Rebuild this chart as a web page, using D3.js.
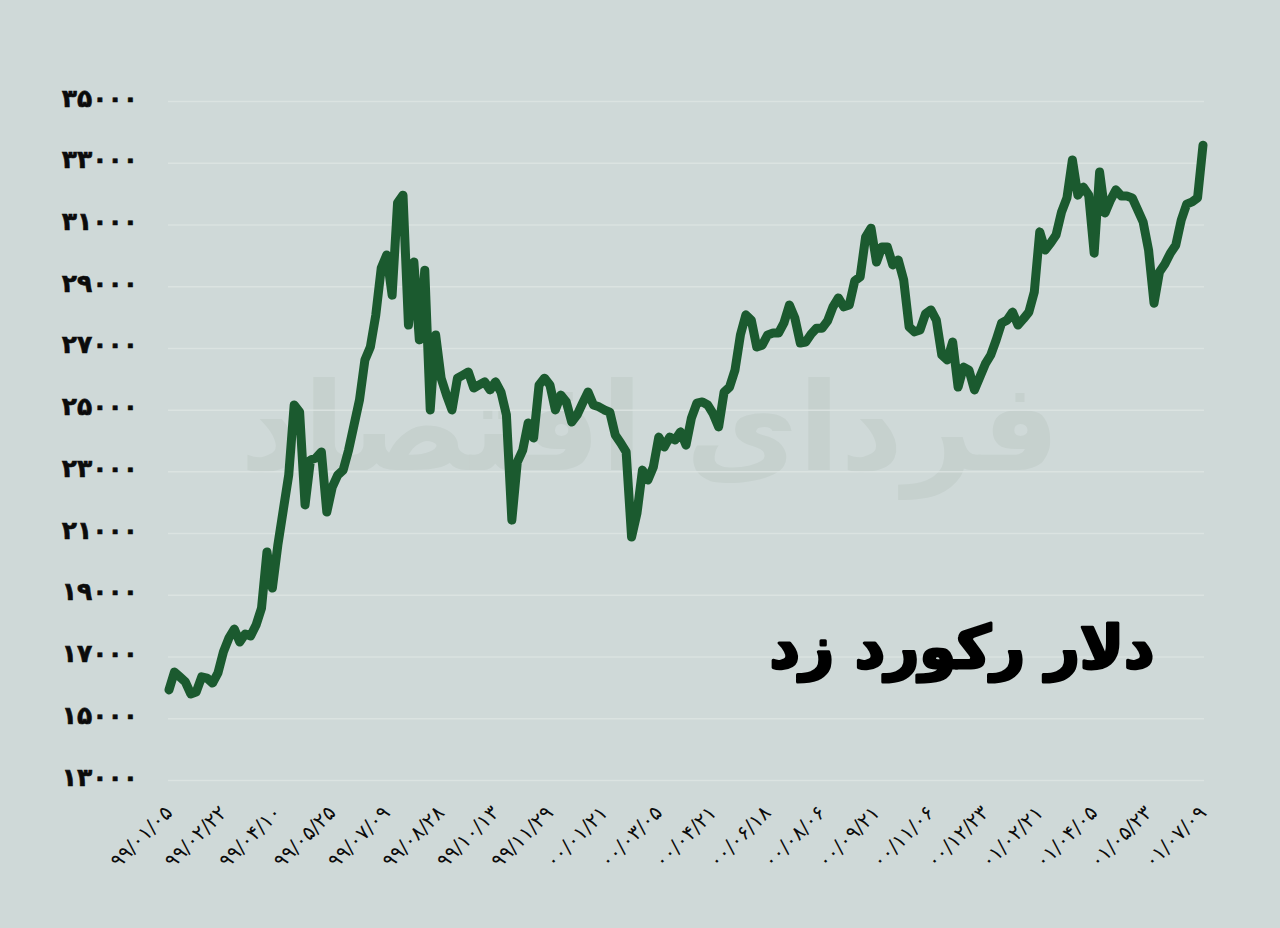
<!DOCTYPE html>
<html>
<head>
<meta charset="utf-8">
<script src="https://cdn.jsdelivr.net/npm/d3@7"></script>
<style>
  html, body { margin: 0; padding: 0; background: #cfd9d8; }
  svg { display: block; }
</style>
</head>
<body>
<svg id="chart" width="1280" height="928"></svg>
<script>
// ---- DATA ----
const title = "دلار رکورد زد";
const watermark = "فردای اقتصاد";

const yTickValues = [13000, 15000, 17000, 19000, 21000, 23000, 25000, 27000, 29000, 31000, 33000, 35000];
const yTickLabels = ["۱۳۰۰۰", "۱۵۰۰۰", "۱۷۰۰۰", "۱۹۰۰۰", "۲۱۰۰۰", "۲۳۰۰۰", "۲۵۰۰۰", "۲۷۰۰۰", "۲۹۰۰۰", "۳۱۰۰۰", "۳۳۰۰۰", "۳۵۰۰۰"];

const xTickLabels = ["۹۹/۰۱/۰۵", "۹۹/۰۲/۲۲", "۹۹/۰۴/۱۰", "۹۹/۰۵/۲۵", "۹۹/۰۷/۰۹", "۹۹/۰۸/۲۸", "۹۹/۱۰/۱۳", "۹۹/۱۱/۲۹", "۰۰/۰۱/۲۱", "۰۰/۰۳/۰۵",
                     "۰۰/۰۴/۲۱", "۰۰/۰۶/۱۸", "۰۰/۰۸/۰۶", "۰۰/۰۹/۲۱", "۰۰/۱۱/۰۶", "۰۰/۱۲/۲۳", "۰۱/۰۲/۲۱", "۰۱/۰۴/۰۵", "۰۱/۰۵/۲۳", "۰۱/۰۷/۰۹"];
const labelEvery = 10; // one date label every 10 observations

// dollar rate (toman), one value per observation
const rate = [
  15920, 16500, 16340, 16180, 15790, 15850, 16340, 16300, 16140, 16470,
  17150, 17600, 17890, 17470, 17730, 17670, 18020, 18570, 20390, 19220,
  20610, 21750, 22880, 25150, 24920, 21910, 23370, 23430, 23630, 21680,
  22490, 22880, 23040, 23690, 24500, 25310, 26610, 27030, 28070, 29590,
  30010, 28710, 31700, 31950, 27740, 29780, 27260, 29520, 24990, 27420,
  26020, 25470, 24990, 26020, 26120, 26220, 25700, 25800, 25900, 25640,
  25900, 25570, 24830, 21420, 23300, 23690, 24570, 24080, 25800, 26020,
  25800, 24990, 25470, 25250, 24600, 24830, 25210, 25570, 25150, 25090,
  24990, 24920, 24180, 23920, 23630, 20870, 21650, 23040, 22720, 23140,
  24110, 23790, 24110, 24020, 24280, 23850, 24730, 25210, 25250, 25150,
  24860, 24440, 25570, 25730, 26280, 27420, 28070, 27900, 27030, 27090,
  27420, 27480, 27480, 27810, 28390, 27970, 27160, 27190, 27450, 27640,
  27640, 27870, 28330, 28620, 28330, 28390, 29170, 29300, 30590, 30880,
  29780, 30270, 30270, 29690, 29850, 29200, 27680, 27520, 27580, 28100,
  28230, 27900, 26770, 26610, 27190, 25730, 26380, 26280, 25640, 26060,
  26480, 26770, 27260, 27810, 27900, 28160, 27740, 27940, 28160, 28810,
  30760, 30170, 30400, 30660, 31400, 31860, 33090, 31950, 32210, 31950,
  30070, 32700, 31370, 31790, 32120, 31920, 31920, 31860, 31470, 31080,
  30170, 28450, 29460, 29720, 30070, 30330, 31140, 31660, 31730, 31860,
  33570
];

// ---- LAYOUT ----
const W = 1280, H = 928;
const plot = { left: 169, right: 1203, top: 101, bottom: 780 };
const colors = { bg: "#cfd9d8", line: "#1b5a2f", grid: "#dde5e3", text: "#0b0b0b", mark: "#c6d1ce" };

const svg = d3.select("#chart");
svg.append("rect").attr("width", W).attr("height", H).attr("fill", colors.bg);

// faint watermark logo
const wm = svg.append("text")
  .attr("x", 650).attr("y", 470)
  .attr("text-anchor", "middle")
  .attr("font-family", "DejaVu Sans")
  .attr("font-weight", "bold")
  .attr("font-size", 150)
  .attr("fill", colors.mark)
  .text(watermark);
const ww = wm.node().getComputedTextLength();
if (ww > 0) wm.attr("font-size", 150 * 820 / ww);

const x = d3.scaleLinear().domain([0, rate.length - 1]).range([plot.left, plot.right]);
const y = d3.scaleLinear().domain([13000, 35000]).range([plot.bottom, plot.top]);

// gridlines
const grid = svg.append("g").attr("transform", `translate(${plot.left - 1},0)`)
  .call(d3.axisLeft(y).tickValues(yTickValues).tickSize(-(plot.right - plot.left + 2)).tickFormat(""));
grid.select(".domain").remove();
grid.selectAll(".tick line").attr("stroke", colors.grid).attr("stroke-width", 1.5).attr("stroke-opacity", 0.8);

// y axis labels
const yAxis = svg.append("g").attr("transform", "translate(138,0)")
  .call(d3.axisLeft(y).tickValues(yTickValues).tickSize(0).tickPadding(0)
    .tickFormat((d, i) => yTickLabels[i]));
yAxis.select(".domain").remove();
yAxis.selectAll(".tick text")
  .attr("font-family", "DejaVu Sans")
  .attr("font-weight", "bold")
  .attr("font-size", 25)
  .attr("fill", colors.text)
  .attr("stroke", colors.text)
  .attr("stroke-width", 0.6)
  .attr("dy", "0.2em");

// x axis labels
const xTickIdx = xTickLabels.map((_, i) => i * labelEvery);
const xAxis = svg.append("g").attr("transform", `translate(0,${plot.bottom + 34})`)
  .call(d3.axisBottom(x).tickValues(xTickIdx).tickSize(0).tickPadding(0)
    .tickFormat((d, i) => xTickLabels[i]));
xAxis.select(".domain").remove();
xAxis.selectAll(".tick text")
  .attr("font-family", "DejaVu Sans")
  .attr("font-size", 20)
  .attr("fill", colors.text)
  .attr("x", 0).attr("y", 0).attr("dy", "0")
  .attr("transform", "translate(4,0) rotate(-45)")
  .style("text-anchor", "end");

// line
const line = d3.line().x((d, i) => x(i)).y(d => y(d)).curve(d3.curveLinear);
svg.append("path")
  .datum(rate)
  .attr("d", line)
  .attr("fill", "none")
  .attr("stroke", colors.line)
  .attr("stroke-width", 9)
  .attr("stroke-linejoin", "round")
  .attr("stroke-linecap", "round");

// title
const t = svg.append("text")
  .attr("x", 962).attr("y", 668)
  .attr("text-anchor", "middle")
  .attr("font-family", "DejaVu Sans")
  .attr("font-weight", "bold")
  .attr("font-size", 70)
  .attr("fill", "#000")
  .attr("stroke", "#000")
  .attr("stroke-width", 3)
  .attr("stroke-linejoin", "round")
  .text(title);
const tw = t.node().getComputedTextLength();
if (tw > 0) t.attr("font-size", 70 * 385 / tw);
</script>
</body>
</html>
